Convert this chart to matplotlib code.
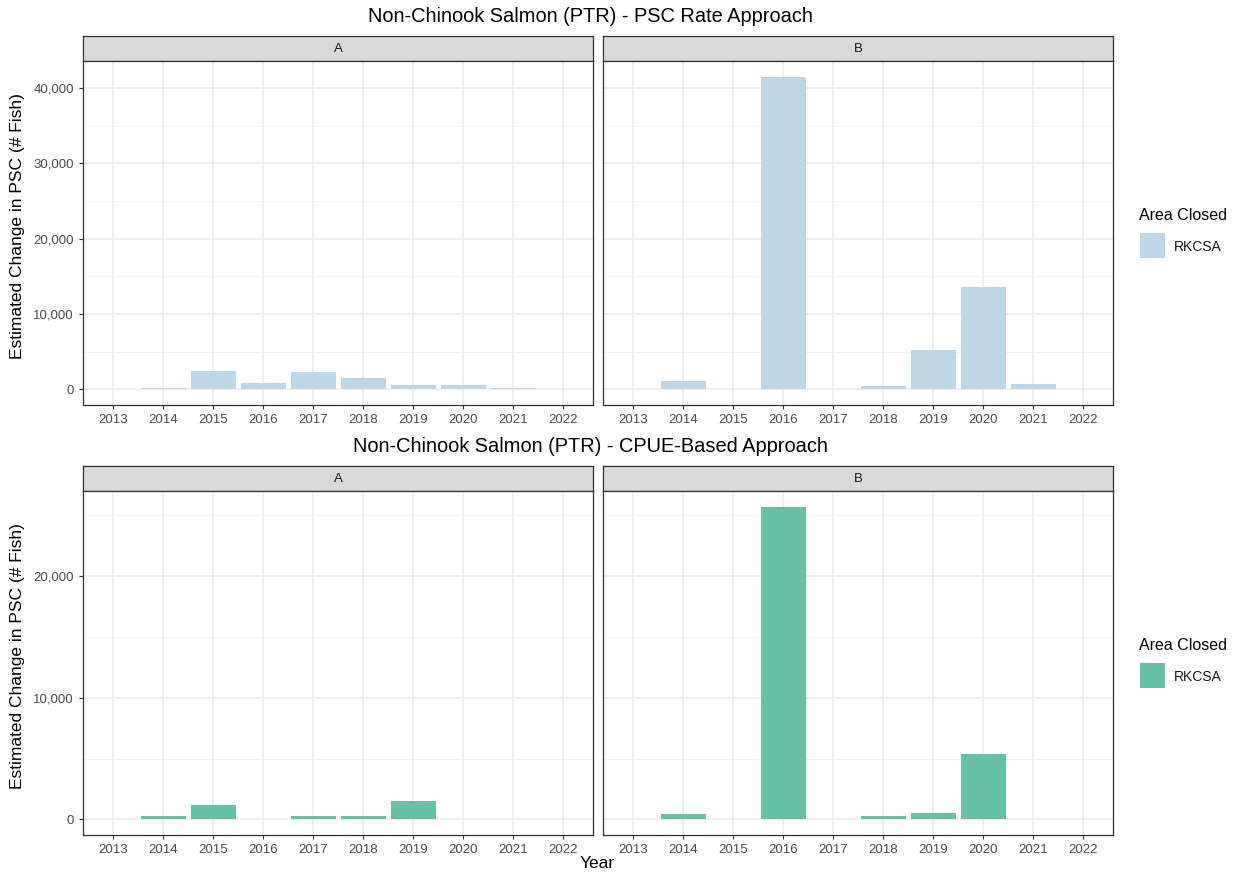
import matplotlib
matplotlib.use("Agg")
import matplotlib.pyplot as plt
from matplotlib.ticker import FuncFormatter, MultipleLocator

plt.rcParams['font.family'] = ['Liberation Sans', 'DejaVu Sans']

years = [2013, 2014, 2015, 2016, 2017, 2018, 2019, 2020, 2021, 2022]

# PSC rate approach, estimated change in PSC (# fish)
rate_a = [0, 150, 2400, 850, 2350, 1500, 620, 570, 220, 30]
rate_b = [0, 1160, 20, 41450, 20, 400, 5200, 13600, 760, 0]

# CPUE-based approach
cpue_a = [0, 250, 1180, 30, 270, 250, 1490, 60, 10, 20]
cpue_b = [0, 440, 0, 25650, 50, 300, 550, 5370, 0, 0]

panels = ['A', 'B']
legend_title = 'Area Closed'
legend_label = 'RKCSA'

W, H = 1244, 873
fig = plt.figure(figsize=(W / 100, H / 100), dpi=100)


def box(x0, y0, x1, y1):
    return [x0 / W, 1 - y1 / H, (x1 - x0) / W, (y1 - y0) / H]


fmt = FuncFormatter(lambda v, p: f'{int(v):,}')


def draw_row(top, values, color, ymax, ytop, title):
    strip_h = 25
    bottom = top + strip_h + 344
    cols = [(83, 593), (603, 1113)]
    axes = []
    for i, (vals, name) in enumerate(zip(values, panels)):
        x0, x1 = cols[i]
        st = fig.add_axes(box(x0, top, x1, top + strip_h))
        st.set_facecolor('#d9d9d9')
        st.set_xticks([])
        st.set_yticks([])
        for s in st.spines.values():
            s.set_color('#333333')
            s.set_linewidth(0.9)
        st.text(0.5, 0.5, name, ha='center', va='center', fontsize=9.5, color='#1a1a1a',
                transform=st.transAxes)

        ax = fig.add_axes(box(x0, top + strip_h, x1, bottom))
        ax.bar(range(len(years)), vals, width=0.9, color=color, zorder=2)
        ax.set_xlim(-0.6, len(years) - 0.4)
        ax.set_ylim(-ymax * 0.05, ytop)
        ax.set_xticks(range(len(years)))
        ax.set_xticklabels([str(y) for y in years])
        ax.yaxis.set_major_locator(MultipleLocator(10000))
        ax.yaxis.set_minor_locator(MultipleLocator(5000))
        ax.yaxis.set_major_formatter(fmt)
        ax.grid(which='major', color='#ebebeb', lw=1.1, zorder=0)
        ax.grid(which='minor', axis='y', color='#f2f2f2', lw=0.6, zorder=0)
        ax.set_axisbelow(True)
        ax.tick_params(which='major', length=3, color='#333333', labelsize=9.5,
                       labelcolor='#4d4d4d', width=0.8)
        ax.tick_params(which='minor', length=0)
        if i == 1:
            ax.tick_params(axis='y', length=0, labelleft=False)
        for s in ax.spines.values():
            s.set_color('#333333')
            s.set_linewidth(0.9)
        axes.append(ax)

    fig.text(590 / W, 1 - (top - 19) / H, title, ha='center', va='center', fontsize=14.4,
             color='black')
    fig.text(18 / W, 1 - (top + strip_h + 165) / H, 'Estimated Change in PSC (# Fish)',
             rotation=90, ha='center', va='center', fontsize=12.5, color='black')

    # legend
    ly = top + 179
    fig.text(1139 / W, 1 - ly / H, legend_title, ha='left', va='center', fontsize=11.5)
    key = fig.add_axes(box(1140, ly + 18, 1165, ly + 43))
    key.set_facecolor(color)
    key.set_xticks([])
    key.set_yticks([])
    for s in key.spines.values():
        s.set_visible(False)
    fig.text(1174 / W, 1 - (ly + 32) / H, legend_label, ha='left', va='center', fontsize=10,
             color='#1a1a1a')
    return axes


draw_row(36, [rate_a, rate_b], '#bdd7e7', max(rate_a + rate_b), 43600,
         'Non-Chinook Salmon (PTR) - PSC Rate Approach')
draw_row(466, [cpue_a, cpue_b], '#66c2a5', max(cpue_a + cpue_b), 27000,
         'Non-Chinook Salmon (PTR) - CPUE-Based Approach')

fig.text(597 / W, 1 - 864 / H, 'Year', ha='center', va='center', fontsize=12.5)

fig.savefig('out.png', dpi=100)
